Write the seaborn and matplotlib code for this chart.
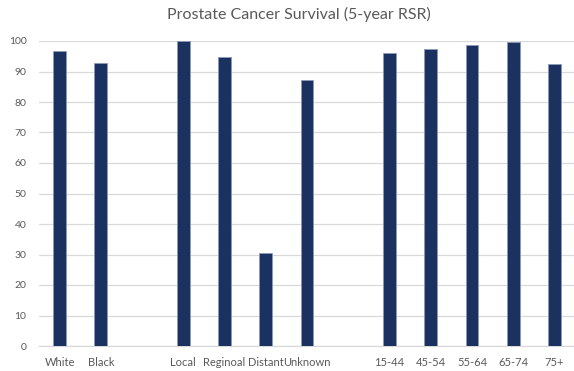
import matplotlib
matplotlib.use("Agg")
import matplotlib.pyplot as plt
import seaborn as sns
import pandas as pd

# 5-year relative survival by race, stage and age group
race = ["White", "Black"]
race_vals = [96.7, 92.8]
stage = ["Local", "Reginoal", "Distant", "Unknown"]
stage_vals = [100.0, 94.7, 30.6, 87.2]
age = ["15-44", "45-54", "55-64", "65-74", "75+"]
age_vals = [96.1, 97.4, 98.7, 99.7, 92.4]

# blank slots separate the three groups
order = race + [" "] + stage + ["  "] + age

df = pd.DataFrame({
    "group": race + stage + age,
    "rsr": race_vals + stage_vals + age_vals,
})

sns.set_theme(style="white")
plt.rcParams["font.family"] = ["Lato", "DejaVu Sans"]

fig = plt.figure(figsize=(5.74, 3.71), dpi=100)
ax = fig.add_axes([39 / 574, 1 - 346 / 371, 536 / 574, 305 / 371])

sns.barplot(data=df, x="group", y="rsr", order=order, color="#1B3160",
            width=0.31, edgecolor="#8A9AB8", linewidth=0.6, saturation=1,
            ax=ax, zorder=3)

ax.set_ylim(0, 100)
ax.set_yticks(range(0, 101, 10))
ax.yaxis.grid(True, color="#D9D9D9", linewidth=0.9, zorder=0)
ax.set_axisbelow(True)
for side in ["top", "right", "left"]:
    ax.spines[side].set_visible(False)
ax.spines["bottom"].set_color("#D9D9D9")
ax.spines["bottom"].set_linewidth(0.9)
ax.tick_params(axis="both", length=0, colors="#595959")
ax.tick_params(axis="x", labelsize=8, pad=8)
ax.tick_params(axis="y", labelsize=7.5, pad=9)
ax.set_xlabel("")
ax.set_ylabel("")
ax.set_xlim(-0.5, len(order) - 0.5)
fig.suptitle("Prostate Cancer Survival (5-year RSR)", x=0.52, y=0.98,
             fontsize=11.5, color="#595959")

fig.savefig("out.png", dpi=100)
